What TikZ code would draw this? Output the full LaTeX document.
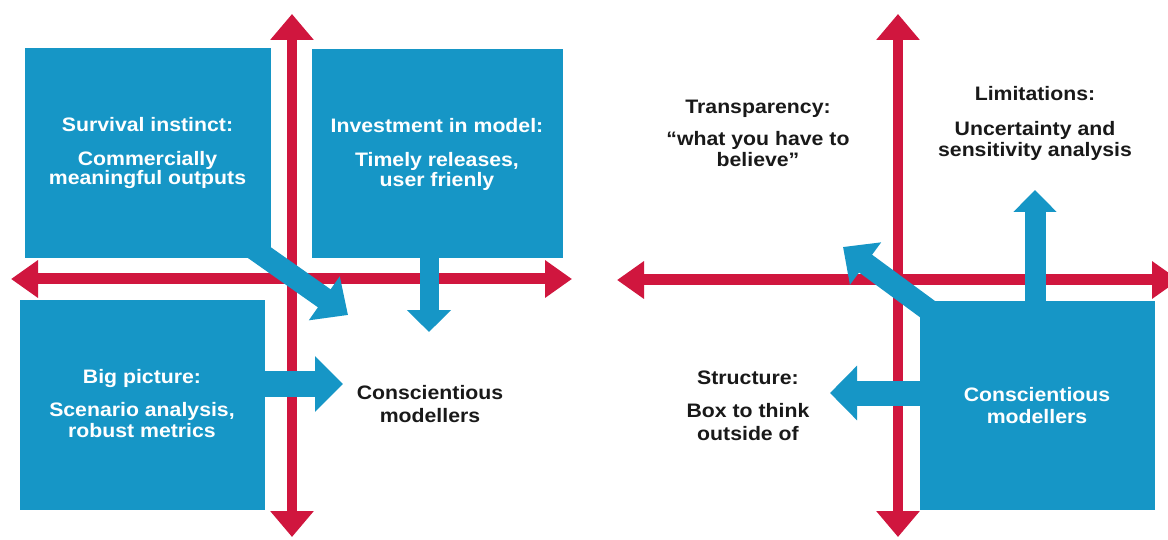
\documentclass[tikz,border=0pt]{standalone}
\usepackage{fontspec}
\setmainfont{Liberation Sans}[FakeStretch=1.09]
\usetikzlibrary{arrows.meta}
\definecolor{boxblue}{RGB}{22,150,198}
\definecolor{axisred}{RGB}{208,22,62}
\definecolor{txtdark}{RGB}{25,25,25}
\begin{document}
\begin{tikzpicture}[x=1pt,y=-1pt,
  bbox/.style={fill=boxblue, draw=none, inner sep=0pt},
  lbl/.style={align=center, inner sep=0pt, anchor=base,
    font=\bfseries\fontsize{19.5}{19.5}\selectfont},
  wlbl/.style={lbl, text=white},
  dlbl/.style={lbl, text=txtdark},
  vaxis/.style={draw=axisred, line width=10pt,
    {Triangle[length=26pt,width=42pt]}-{Triangle[length=26pt,width=42pt]}},
  haxis/.style={draw=axisred, line width=11pt,
    {Triangle[length=27pt,width=36pt]}-{Triangle[length=27pt,width=36pt]}},
  barrow/.style={draw=boxblue}
]
\useasboundingbox (0,0) rectangle (1168,540);
\clip (0,0) rectangle (1168,540);
\fill[white] (0,0) rectangle (1168,540);

% ---------- axes ----------
\coordinate (LvT) at (292,14);  \coordinate (LvB) at (292,537);
\coordinate (LhL) at (11,279);  \coordinate (LhR) at (572,279);
\coordinate (RvT) at (898,14);  \coordinate (RvB) at (898,537);
\coordinate (RhL) at (617,280); \coordinate (RhR) at (1179,280);
\draw[vaxis] (LvT) -- (LvB);
\draw[haxis] (LhL) -- (LhR);
\draw[vaxis] (RvT) -- (RvB);
\draw[haxis] (RhL) -- (RhR);

% ---------- boxes ----------
\node[bbox, minimum width=246pt, minimum height=210pt] (surv) at (148,153) {};
\node[bbox, minimum width=251pt, minimum height=209pt] (inv) at (437.5,153.5) {};
\node[bbox, minimum width=245pt, minimum height=210pt] (big) at (142.5,405) {};
\node[bbox, minimum width=235pt, minimum height=209pt] (consR) at (1037.5,405.5) {};

% ---------- texts (anchor = baseline of last line) ----------
\node[wlbl] (tSurv) at (147.5,185) {Survival instinct:\\[14pt]Commercially\\meaningful outputs};
\node[wlbl] (tInv) at (437,187) {Investment in model:\\[14pt]Timely releases,\\[1pt]user frienly};
\node[wlbl] (tBig) at (142,437) {Big picture:\\[14pt]Scenario analysis,\\[1pt]robust metrics};
\node[dlbl] (tConsL) at (430,422) {Conscientious\\[3pt]modellers};

\node[dlbl] (tTrans) at (758,167) {Transparency:\\[12pt]“what you have to\\[2pt]believe”};
\node[dlbl] (tLim) at (1035,157) {Limitations:\\[15pt]Uncertainty and\\[2pt]sensitivity analysis};
\node[dlbl] (tStruct) at (748,440) {Structure:\\[14pt]Box to think\\[3pt]outside of};
\node[wlbl] (tConsR) at (1037,423) {Conscientious\\[2pt]modellers};

% ---------- blue arrows ----------
\coordinate (a1s) at (240,239);  \coordinate (a1e) at (348,315);
\coordinate (a2s) at (429,250);  \coordinate (a2e) at (429,332);
\coordinate (a3s) at (255,384);  \coordinate (a3e) at (343,384);
\coordinate (a4s) at (1035,310); \coordinate (a4e) at (1035,190);
\coordinate (a5s) at (945,322);  \coordinate (a5e) at (843,247);
\coordinate (a6s) at (930,393);  \coordinate (a6e) at (830,393);

\draw[barrow, line width=22pt, -{Triangle[length=29pt,width=52pt]}] (a1s) -- (a1e);
\draw[barrow, line width=19pt, -{Triangle[length=22pt,width=43pt]}] (a2s) -- (a2e);
\draw[barrow, line width=26pt, -{Triangle[length=28pt,width=54pt]}] (a3s) -- (a3e);
\draw[barrow, line width=21pt, -{Triangle[length=22pt,width=42pt]}] (a4s) -- (a4e);
\draw[barrow, line width=22pt, -{Triangle[length=28pt,width=51pt]}] (a5s) -- (a5e);
\draw[barrow, line width=25pt, -{Triangle[length=27pt,width=53pt]}] (a6s) -- (a6e);
\end{tikzpicture}
\end{document}
